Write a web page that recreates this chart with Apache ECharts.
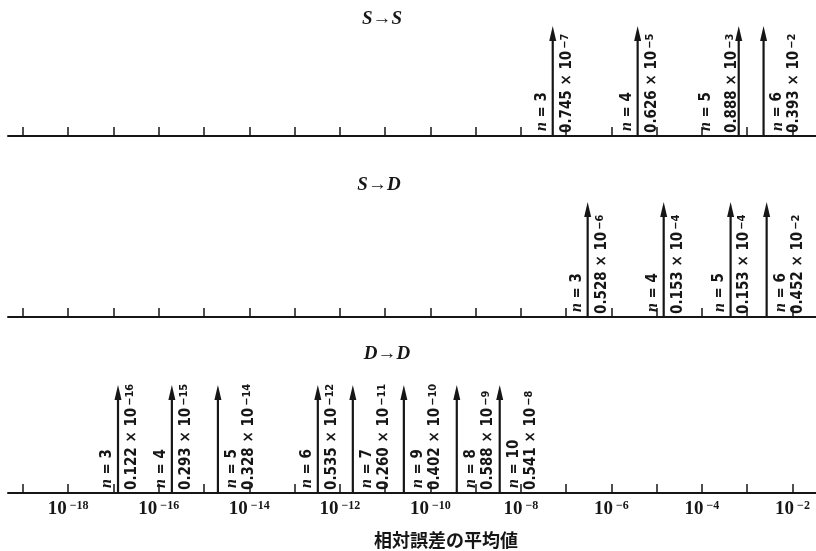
<!DOCTYPE html>
<html>
<head>
<meta charset="utf-8">
<script src="https://cdn.jsdelivr.net/npm/echarts@6/dist/echarts.min.js"></script>
<style>
  html, body { margin: 0; padding: 0; background: #fff; }
  #chart { width: 816px; height: 551px; }
</style>
</head>
<body>
<div id="chart"></div>
<script>
// S -> S
const ssN = [3, 4, 5, 6];
const ssMant = ["0.745", "0.626", "0.888", "0.393"];
const ssExp = [-7, -5, -3, -2];
const ssPos = [5.06e-8, 3.8e-6, 6.5e-4, 2.3e-3]; // arrow position
const ssPlace = ["split", "split", "left", "right"];

// S -> D
const sdN = [3, 4, 5, 6];
const sdMant = ["0.528", "0.153", "0.153", "0.452"];
const sdExp = [-6, -4, -4, -2];
const sdPos = [2.99e-7, 1.43e-5, 4.3e-4, 2.69e-3];
const sdPlace = ["split", "split", "split", "right"];

// D -> D
const ddN = [3, 4, 5, 6, 7, 9, 8, 10];
const ddMant = ["0.122", "0.293", "0.328", "0.535", "0.260", "0.402", "0.588", "0.541"];
const ddExp = [-16, -15, -14, -12, -11, -10, -9, -8];
const ddPos = [1.26e-17, 1.95e-16, 2.03e-15, 3.27e-13, 1.94e-12, 2.6e-11, 3.84e-10, 3.41e-9];
const ddPlace = ["split", "split", "right", "split", "right", "right", "right", "right"];

const tickExps = [-19, -18, -17, -16, -15, -14, -13, -12, -11, -10, -9, -8, -7, -6, -5, -4, -3, -2];
const labelExps = [-18, -16, -14, -12, -10, -8, -6, -4, -2];

const INK = "#161616";
const NARROW = "'Liberation Sans Narrow', 'DejaVu Sans Condensed', 'Liberation Sans', sans-serif";
const SERIF = "'Liberation Serif', 'DejaVu Serif', serif";

// label offsets from the arrow: [n label, value label]
const OFFS = {
  split: [-11, 14],
  left: [-33, -7],
  right: [14, 31],
};

const chartDom = document.getElementById("chart");
const myChart = echarts.init(chartDom);

function makeRender(names, mant, exps, place) {
  return function (params, api) {
    const i = params.dataIndex;
    const base = api.coord([api.value(0), 0]);
    const top = api.coord([api.value(0), 1]);
    const x = base[0];
    const off = OFFS[place[i]];
    return {
      type: "group",
      children: [
        {
          type: "line",
          shape: { x1: x, y1: base[1], x2: x, y2: top[1] + 10 },
          style: { stroke: INK, lineWidth: 2.2 },
        },
        {
          type: "polygon",
          shape: { points: [[x, top[1]], [x - 3.5, top[1] + 15], [x + 3.5, top[1] + 15]] },
          style: { fill: INK },
        },
        {
          type: "text",
          x: x + off[0],
          y: base[1] - 5,
          rotation: Math.PI / 2,
          style: {
            text: "{i|n} = " + names[i],
            align: "left",
            verticalAlign: "middle",
            fill: INK,
            font: "bold 15px " + NARROW,
            rich: {
              i: { fontFamily: SERIF, fontStyle: "italic", fontWeight: "bold", fontSize: 16, fill: INK },
            },
          },
        },
        {
          type: "text",
          x: x + off[1],
          y: base[1] - 3,
          rotation: Math.PI / 2,
          style: {
            text: mant[i] + " × 10{s|−" + Math.abs(exps[i]) + "}",
            align: "left",
            verticalAlign: "middle",
            fill: INK,
            font: "bold 15px " + NARROW,
            rich: {
              s: { fontFamily: NARROW, fontWeight: "bold", fontSize: 11, verticalAlign: "top", fill: INK, padding: [0, 0, 0, 2] },
            },
          },
        },
      ],
    };
  };
}

function toData(pos) {
  return pos.map((v) => [Math.log10(v), 0]);
}

const sup = (e) => "{b|10}{s|−" + Math.abs(e) + "}";

function makeXAxis(idx, showLabels) {
  return {
    type: "value",
    gridIndex: idx,
    min: -19.33,
    max: -1.48,
    splitLine: { show: false },
    axisLine: { show: true, onZero: false, lineStyle: { color: INK, width: 2 } },
    axisTick: {
      show: true,
      inside: true,
      length: 9,
      customValues: tickExps,
      lineStyle: { color: INK, width: 1.5 },
    },
    axisLabel: {
      show: showLabels,
      customValues: labelExps,
      margin: 7,
      formatter: (v) => sup(v),
      rich: {
        b: { fontFamily: SERIF, fontWeight: "bold", fontSize: 19, color: INK },
        s: { fontFamily: SERIF, fontWeight: "bold", fontSize: 12, color: INK, verticalAlign: "top", padding: [0, 0, 0, 3] },
      },
    },
  };
}

const titleStyle = { fontFamily: SERIF, fontStyle: "italic", fontWeight: "bold", fontSize: 19, color: INK };

const option = {
  backgroundColor: "#fff",
  animation: false,
  title: [
    { text: "S→S", left: 377, top: 5, textAlign: "center", textStyle: titleStyle },
    { text: "S→D", left: 374, top: 171, textAlign: "center", textStyle: titleStyle },
    { text: "D→D", left: 382, top: 340, textAlign: "center", textStyle: titleStyle },
    { text: "相対誤差の平均値", left: 441, top: 526, textAlign: "center",
      textStyle: { fontFamily: "'Noto Sans CJK JP', sans-serif", fontWeight: "bold", fontSize: 18, color: INK } },
  ],
  grid: [
    { left: 8, right: 0, top: 26, height: 110 },
    { left: 8, right: 0, top: 202, height: 115 },
    { left: 8, right: 0, top: 385, height: 108 },
  ],
  xAxis: [makeXAxis(0, false), makeXAxis(1, false), makeXAxis(2, true)],
  yAxis: [0, 1, 2].map((i) => ({ type: "value", gridIndex: i, min: 0, max: 1, show: false })),
  series: [
    {
      type: "custom",
      xAxisIndex: 0,
      yAxisIndex: 0,
      renderItem: makeRender(ssN, ssMant, ssExp, ssPlace),
      data: toData(ssPos),
      clip: false,
    },
    {
      type: "custom",
      xAxisIndex: 1,
      yAxisIndex: 1,
      renderItem: makeRender(sdN, sdMant, sdExp, sdPlace),
      data: toData(sdPos),
      clip: false,
    },
    {
      type: "custom",
      xAxisIndex: 2,
      yAxisIndex: 2,
      renderItem: makeRender(ddN, ddMant, ddExp, ddPlace),
      data: toData(ddPos),
      clip: false,
    },
  ],
};

myChart.setOption(option);
</script>
</body>
</html>
